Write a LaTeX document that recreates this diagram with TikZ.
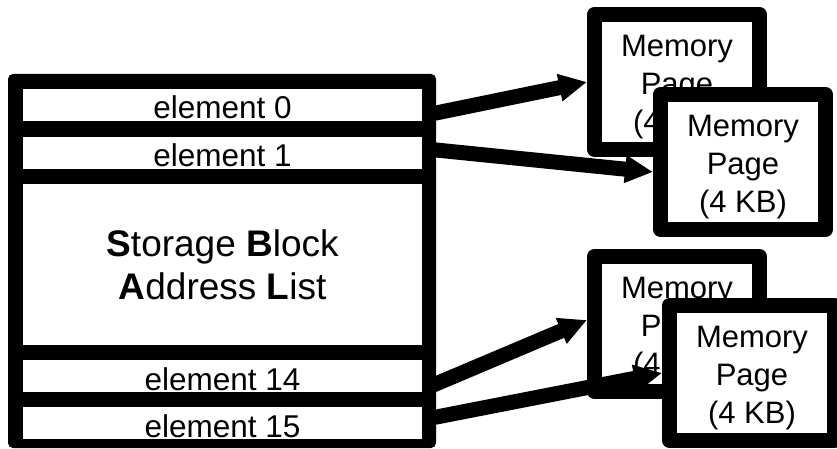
\documentclass[tikz,border=0pt]{standalone}
\usepackage{fontspec}
\setmainfont{Liberation Sans}
\usetikzlibrary{arrows.meta}
\begin{document}
\begin{tikzpicture}[x=1pt, y=-1pt,
    frame/.style={fill=black, rounded corners=5pt, minimum width=428pt, minimum height=374pt, inner sep=0pt},
    row/.style={fill=white, minimum width=399pt, minimum height=32pt, inner sep=0pt, text height=28pt, text depth=0pt,
                font=\fontsize{31.5}{36}\selectfont},
    page/.style={draw, fill=white, line width=15pt, line join=round, minimum width=165pt, minimum height=135pt,
                 inner sep=0pt, align=center, font=\fontsize{31}{38}\selectfont},
    ptr/.style={line width=15pt, -{Triangle[length=28pt, width=26pt]}}]
    \useasboundingbox (0,0) rectangle (837,449);
    % --- address list ---
    \node[frame] (list) at (222,261) {};
    \node[row] (e0) at (222.5,105) {element 0};
    \node[row] (e1) at (222.5,153) {element 1};
    \node[row, minimum height=161pt, text height=, text depth=, align=center, font=\fontsize{37}{43}\selectfont] (sbal) at (222.5,264.5)
        {\textbf{S}torage \textbf{B}lock\\\textbf{A}ddress \textbf{L}ist};
    \node[row] (e14) at (222.5,376) {element 14};
    \node[row] (e15) at (222.5,423) {element 15};
    % --- memory pages ---
    \node[page] (pgA) at (677,82) {\rule{0pt}{32pt}Memory\\Page\\(4 KB)};
    \node[page] (pgB) at (743,162) {\rule{0pt}{32pt}Memory\\Page\\(4 KB)};
    \node[page] (pgC) at (677,324) {\rule{0pt}{32pt}Memory\\Page\\(4 KB)};
    \node[page] (pgD) at (752,373) {\rule{0pt}{32pt}Memory\\Page\\(4 KB)};
    % --- pointers ---
    \draw[ptr] ([xshift=4pt, yshift=-10pt]e0.east) -- (pgA.west);
    \draw[ptr] ([xshift=4pt, yshift=4pt]e1.east) -- ([yshift=-10pt]pgB.west);
    \draw[ptr] ([xshift=4pt, yshift=-12pt]e14.east) -- ([yshift=4pt]pgC.west);
    \draw[ptr] ([xshift=4pt, yshift=4pt]e15.east) -- (pgD.west);
\end{tikzpicture}
\end{document}
